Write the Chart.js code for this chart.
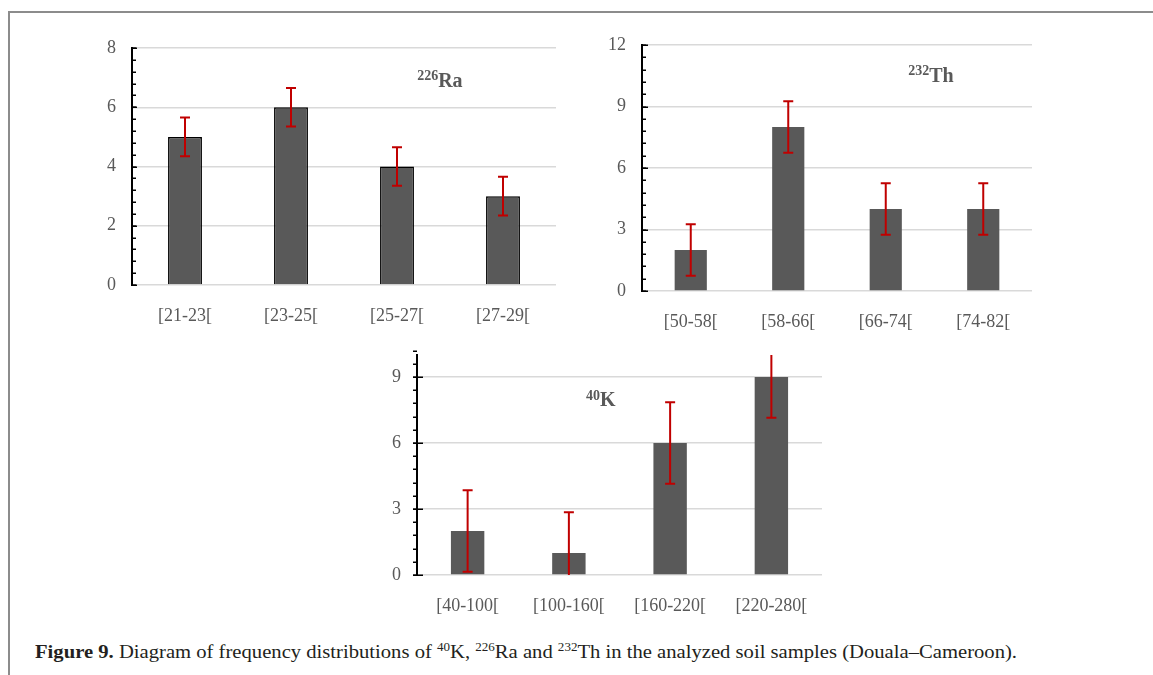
<!DOCTYPE html>
<html>
<head>
<meta charset="utf-8">
<title>Frequency distributions of 40K, 226Ra and 232Th</title>
<script src="https://cdn.jsdelivr.net/npm/chart.js@4.4.1/dist/chart.umd.min.js"></script>
<style>
  html, body { margin: 0; padding: 0; background: #fff; width: 1153px; height: 675px; overflow: hidden; }
  .frame-top { position: absolute; left: 8px; top: 11px; width: 1145px; height: 0; border-top: 2px solid #8c8c8c; }
  .frame-left { position: absolute; left: 8px; top: 11px; width: 0; height: 664px; border-left: 2px solid #8c8c8c; }
  canvas { position: absolute; }
  .caption { position: absolute; left: 35px; top: 641px; font-family: 'Liberation Serif', 'Times New Roman', serif;
             font-size: 19px; line-height: 22px; color: #231f20; white-space: nowrap; transform-origin: 0 0; }
  .caption sup { font-size: 12px; vertical-align: 7px; line-height: 0; }
</style>
</head>
<body>
<div class="frame-top"></div>
<div class="frame-left"></div>
<canvas id="raChart" width="530" height="300" style="left:40px;top:30px"></canvas>
<canvas id="thChart" width="490" height="315" style="left:560px;top:25px"></canvas>
<canvas id="kChart" width="500" height="285" style="left:340px;top:340px"></canvas>
<div class="caption" id="caption"><b>Figure 9.</b> Diagram of frequency distributions of <sup>40</sup>K, <sup>226</sup>Ra and <sup>232</sup>Th in the analyzed soil samples (Douala–Cameroon).</div>

<script>
// Activity classes (Bq/kg) and number of samples per class
const raClasses = ['[21-23[', '[23-25[', '[25-27[', '[27-29['];
const raCounts  = [5, 6, 4, 3];
const raErrors  = [0.65, 0.65, 0.65, 0.65];
const raTicks   = [0, 2, 4, 6, 8];

const thClasses = ['[50-58[', '[58-66[', '[66-74[', '[74-82['];
const thCounts  = [2, 8, 4, 4];
const thErrors  = [1.26, 1.26, 1.26, 1.26];
const thTicks   = [0, 3, 6, 9, 12];

const kClasses  = ['[40-100[', '[100-160[', '[160-220[', '[220-280['];
const kCounts   = [2, 1, 6, 9];
const kErrors   = [1.85, 1.85, 1.85, 1.85];
const kTicks    = [0, 3, 6, 9];

const SERIF = "'Liberation Serif', 'Times New Roman', serif";
const TEXT_GREY = '#595959';

// Red error whiskers with caps, clipped to the plot area
const errorBarPlugin = {
  id: 'errorBars',
  afterDatasetsDraw(chart) {
    const { ctx, chartArea: a, scales: { y } } = chart;
    const ds = chart.data.datasets[0];
    const meta = chart.getDatasetMeta(0);
    ctx.save();
    ctx.beginPath();
    ctx.rect(a.left, a.top, a.right - a.left, a.bottom - a.top);
    ctx.clip();
    ctx.strokeStyle = '#c00000';
    ctx.lineWidth = 2;
    meta.data.forEach((bar, i) => {
      const v = ds.data[i], e = ds.errors[i];
      const top = y.getPixelForValue(v + e);
      const bot = y.getPixelForValue(v - e);
      ctx.beginPath();
      ctx.moveTo(bar.x, top); ctx.lineTo(bar.x, bot);
      ctx.moveTo(bar.x - 5, top); ctx.lineTo(bar.x + 5, top);
      ctx.moveTo(bar.x - 5, bot); ctx.lineTo(bar.x + 5, bot);
      ctx.stroke();
    });
    ctx.restore();
  }
};

// Minor and major tick marks along the value axis
const axisTickPlugin = {
  id: 'axisMarks',
  afterDraw(chart, args, opts) {
    const { ctx, chartArea: a, scales: { y } } = chart;
    const ax = a.left;
    ctx.save();
    ctx.strokeStyle = '#000';
    ctx.lineWidth = 1.5;
    const n = Math.round((y.max - y.min) / opts.minor);
    for (let i = 0; i <= n; i++) {
      const v = y.min + i * opts.minor;
      const py = Math.round(y.getPixelForValue(v)) + 0.25;
      ctx.beginPath();
      ctx.moveTo(ax - opts.out, py);
      ctx.lineTo(ax + opts.in, py);
      ctx.stroke();
    }
    y.ticks.forEach(t => {
      const py = Math.round(y.getPixelForValue(t.value)) + 0.25;
      ctx.beginPath();
      ctx.moveTo(ax - opts.majorOut, py);
      ctx.lineTo(ax + opts.majorIn, py);
      ctx.stroke();
    });
    ctx.restore();
  }
};

// Nuclide label (mass number as superscript), placed in axis units
const nuclideLabelPlugin = {
  id: 'nuclide',
  afterDraw(chart, args, opts) {
    const { ctx, scales: { x, y } } = chart;
    let px = x.getPixelForValue(opts.at[0]);
    const base = y.getPixelForValue(opts.at[1]);
    ctx.save();
    ctx.fillStyle = TEXT_GREY;
    ctx.textBaseline = 'alphabetic';
    ctx.textAlign = 'left';
    ctx.font = 'bold 14px ' + SERIF;
    ctx.fillText(opts.mass, px, base - 6.5);
    px += ctx.measureText(opts.mass).width;
    ctx.font = 'bold 20px ' + SERIF;
    ctx.fillText(opts.symbol, px, base);
    ctx.restore();
  }
};

function buildChart(id, o) {
  return new Chart(document.getElementById(id), {
    type: 'bar',
    data: {
      labels: o.labels,
      datasets: [{
        data: o.counts,
        errors: o.errors,
        backgroundColor: '#595959',
        borderColor: o.edgeColor,
        borderWidth: o.edgeWidth,
        borderSkipped: 'bottom',
        barPercentage: o.barPct,
        categoryPercentage: 1
      }]
    },
    options: {
      responsive: false,
      animation: false,
      events: [],
      layout: { padding: { left: 0, right: o.padRight, top: o.padTop, bottom: 0 } },
      plugins: {
        legend: { display: false },
        tooltip: { enabled: false },
        axisMarks: o.marks,
        nuclide: o.nuclide
      },
      scales: {
        x: {
          grid: { display: false },
          border: { display: false },
          ticks: { font: { family: SERIF, size: 18 }, color: TEXT_GREY, padding: 12, maxRotation: 0 },
          afterFit: s => { s.height = o.xHeight; s.paddingLeft = 0; s.paddingRight = 0; }
        },
        y: {
          min: 0,
          max: o.max,
          afterBuildTicks: s => { s.ticks = o.ticks.map(v => ({ value: v })); },
          ticks: { font: { family: SERIF, size: 18 }, color: TEXT_GREY, padding: 16 },
          grid: { color: '#d9d9d9', lineWidth: 1.5, drawTicks: false },
          border: { color: '#000', width: 2 },
          afterFit: s => { s.width = o.yWidth; s.paddingTop = 0; s.paddingBottom = 0; }
        }
      }
    },
    plugins: [errorBarPlugin, axisTickPlugin, nuclideLabelPlugin]
  });
}

function drawAll() {
  buildChart('raChart', {
    labels: raClasses, counts: raCounts, errors: raErrors, ticks: raTicks, max: 8,
    edgeColor: '#000', edgeWidth: 1.5, barPct: 0.32,
    padRight: 14, padTop: 18, xHeight: 45, yWidth: 92,
    marks: { minor: 0.4, in: 4, out: 0, majorIn: 5, majorOut: 1 },
    nuclide: { mass: '226', symbol: 'Ra', at: [2.19, 6.7] }
  });
  buildChart('thChart', {
    labels: thClasses, counts: thCounts, errors: thErrors, ticks: thTicks, max: 12,
    edgeColor: '#7f7f7f', edgeWidth: 0, barPct: 0.33,
    padRight: 18, padTop: 20, xHeight: 49, yWidth: 82,
    marks: { minor: 0.6, in: 4, out: 0, majorIn: 6, majorOut: 1 },
    nuclide: { mass: '232', symbol: 'Th', at: [2.23, 10.2] }
  });
  buildChart('kChart', {
    labels: kClasses, counts: kCounts, errors: kErrors, ticks: kTicks, max: 10,
    edgeColor: '#7f7f7f', edgeWidth: 0, barPct: 0.33,
    padRight: 18, padTop: 15, xHeight: 50, yWidth: 77,
    marks: { minor: 0.6, in: 0, out: 4, majorIn: 6, majorOut: 4 },
    nuclide: { mass: '40', symbol: 'K', at: [1.17, 7.68] }
  });

  // Caption set to the column width
  const cap = document.getElementById('caption');
  const w = cap.getBoundingClientRect().width;
  cap.style.transform = 'scaleX(' + (982 / w) + ')';
}

if (document.fonts && document.fonts.load) {
  Promise.all([
    document.fonts.load('18px "Liberation Serif"'),
    document.fonts.load('bold 20px "Liberation Serif"')
  ]).then(drawAll, drawAll);
} else {
  drawAll();
}
</script>
</body>
</html>
